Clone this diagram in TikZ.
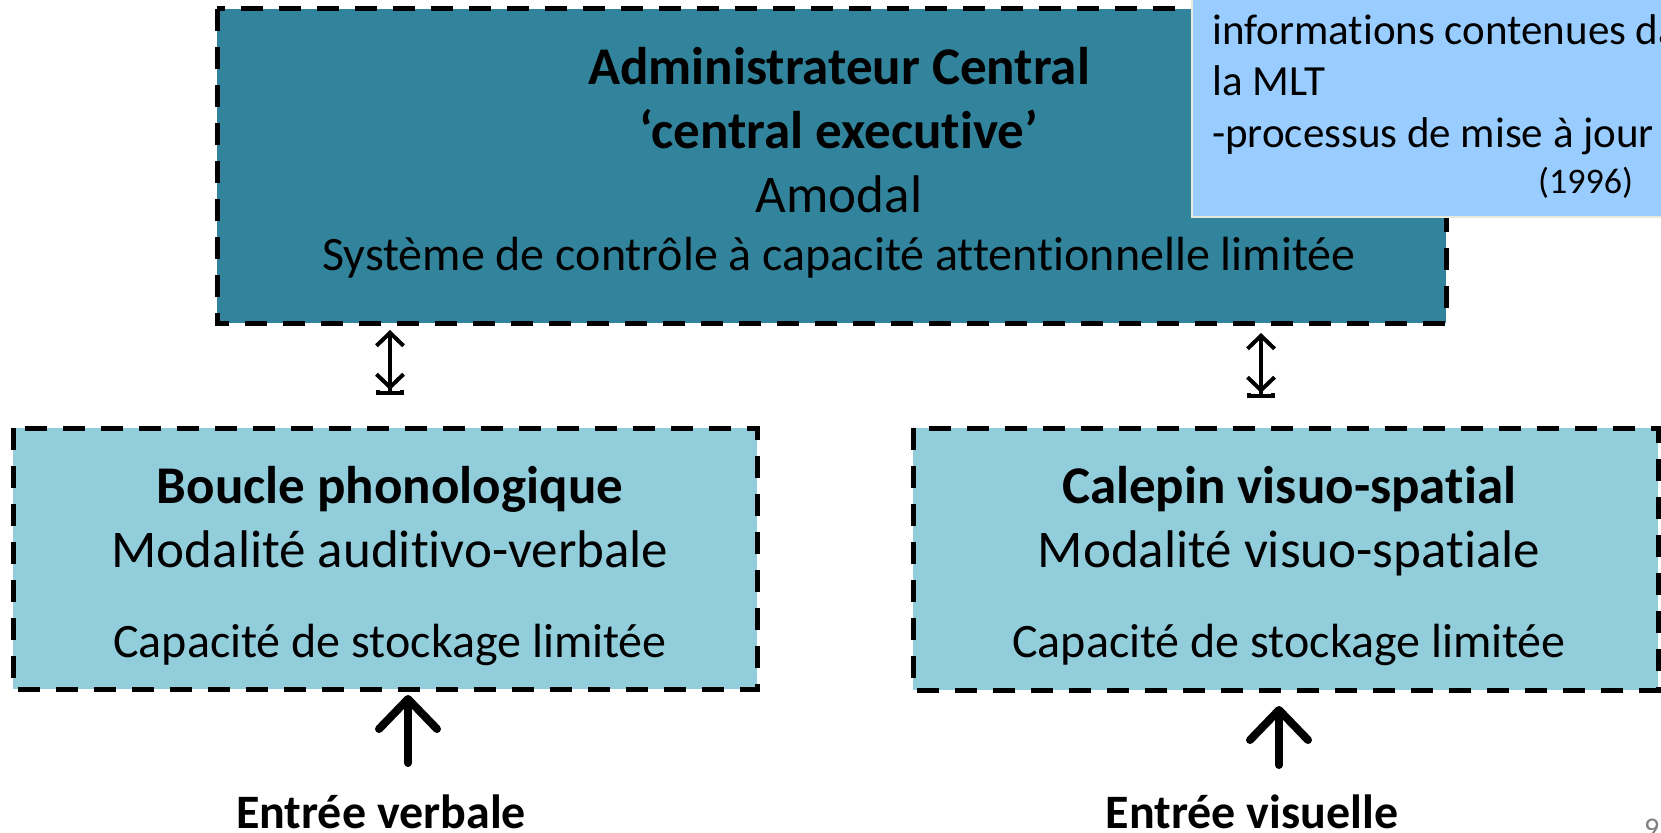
\documentclass[tikz,border=0pt]{standalone}
\usepackage{fontspec}
\setmainfont[Ligatures=NoCommon]{Carlito}
\usetikzlibrary{arrows.meta}
\definecolor{teal1}{HTML}{31849B}
\definecolor{aqua1}{HTML}{92CDDC}
\definecolor{note1}{HTML}{99CCFF}
\definecolor{noteborder}{HTML}{E6EAD8}
\tikzset{
  dbox/.style={draw=black, line width=5pt, dash pattern=on 22pt off 16pt},
  txt/.style={inner sep=0pt, anchor=base},
  dbl/.style={line width=4pt, {Straight Barb[length=13pt,width=27pt]}-{Straight Barb[length=13pt,width=27pt]Bar[width=28pt,length=5pt]}},
  upar/.style={line width=8pt, line cap=round, -{Straight Barb[round,length=30pt,width=58pt]}},
}
\newcommand{\fs}[1]{\fontsize{#1pt}{#1pt}\selectfont}
\begin{document}
\begin{tikzpicture}[x=1pt,y=-1pt]
\useasboundingbox (0,0) rectangle (1661,832);
% boxes
\path[fill=teal1] (217,9) rectangle (1446,323);
\draw[dbox] (217,9) rectangle (1446,323);
\path[fill=aqua1] (13,428) rectangle (757,689);
\draw[dbox] (13,428) rectangle (757,689);
\path[fill=aqua1] (913,428) rectangle (1658,690);
\draw[dbox] (913,428) rectangle (1658,690);
% top texts
\node[txt] (admin) at (839,85) {\fs{53}\bfseries Administrateur Central};
\node[txt] (ce) at (839,148) {\fs{53}\bfseries ‘central executive’};
\node[txt] (amodal) at (839,212) {\fs{53}Amodal};
\node[txt] (sys) at (839,270) {\fs{48}Système de contrôle à capacité attentionnelle limitée};
% left box
\node[txt] (boucle) at (390,503) {\fs{53}\bfseries Boucle phonologique};
\node[txt] (modav) at (390,567) {\fs{53}Modalité auditivo-verbale};
\node[txt] (capl) at (390,657) {\fs{48}Capacité de stockage limitée};
% right box
\node[txt] (calepin) at (1289,503) {\fs{53}\bfseries Calepin visuo-spatial};
\node[txt] (modvs) at (1289,567) {\fs{53}Modalité visuo-spatiale};
\node[txt] (capr) at (1289,657) {\fs{48}Capacité de stockage limitée};
% inputs
\node[txt] (entv) at (381,828) {\fs{48}\bfseries Entrée verbale};
\node[txt] (entvis) at (1252,828) {\fs{48}\bfseries Entrée visuelle};
\node[txt, text=gray, anchor=base west] (pnum) at (1644,838) {\fs{30}9};
% double arrows
\coordinate (d1a) at (390,330);
\coordinate (d1b) at (390,395);
\coordinate (d2a) at (1261,333);
\coordinate (d2b) at (1261,398);
\draw[dbl] (d1a) -- (d1b);
\draw[dbl] (d2a) -- (d2b);
% up arrows
\coordinate (u1a) at (408,763);
\coordinate (u1b) at (408,695);
\coordinate (u2a) at (1279,765);
\coordinate (u2b) at (1279,706);
\draw[upar] (u1a) -- (u1b);
\draw[upar] (u2a) -- (u2b);
% note box
\begin{scope}
\clip (0,0) rectangle (1661,832);
\path[fill=note1, draw=noteborder, line width=2pt] (1192,-6) rectangle (1675,217);
\node[txt, anchor=base west] (n1) at (1212,45) {\fs{43}informations contenues dans};
\node[txt, anchor=base west] (n2) at (1212,96) {\fs{43}la MLT};
\node[txt, anchor=base west] (n3) at (1212,147) {\fs{43}-processus de mise à jour};
\node[txt, anchor=base west] (n4) at (1538,193) {\fs{36}(1996)};
\end{scope}
\end{tikzpicture}
\end{document}
